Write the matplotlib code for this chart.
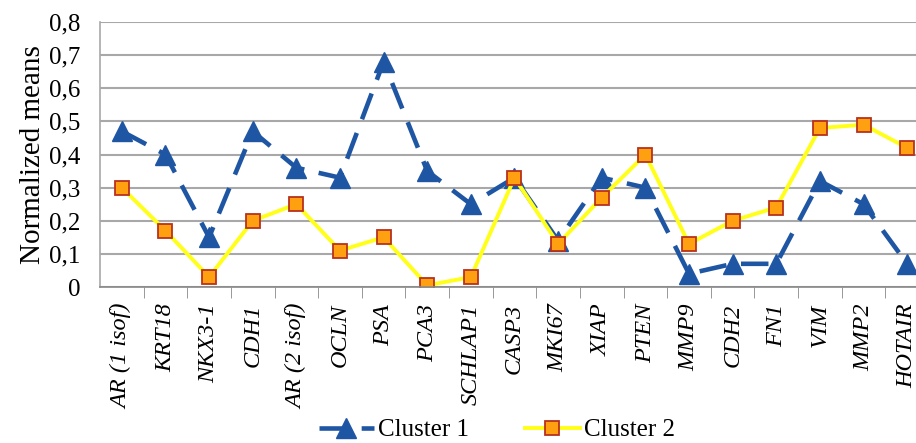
import numpy as np
from matplotlib import pyplot as plt

genes = ['AR (1 isof)', 'KRT18', 'NKX3-1', 'CDH1', 'AR (2 isof)', 'OCLN', 'PSA', 'PCA3',
         'SCHLAP1', 'CASP3', 'MKI67', 'XIAP', 'PTEN', 'MMP9', 'CDH2', 'FN1', 'VIM', 'MMP2', 'HOTAIR']
cluster1 = [0.47, 0.40, 0.15, 0.47, 0.36, 0.33, 0.68, 0.35, 0.25, 0.33, 0.14, 0.33, 0.30,
            0.04, 0.07, 0.07, 0.32, 0.25, 0.07]
cluster2 = [0.30, 0.17, 0.03, 0.20, 0.25, 0.11, 0.15, 0.005, 0.03, 0.33, 0.13, 0.27, 0.40,
            0.13, 0.20, 0.24, 0.48, 0.49, 0.42]
yticks = [0, 0.1, 0.2, 0.3, 0.4, 0.5, 0.6, 0.7, 0.8]

plt.rcParams['font.family'] = ['Liberation Serif', 'DejaVu Serif']

fig = plt.figure(figsize=(9.16, 4.43), dpi=100)
# el eje se sale un poco por la derecha, como en la imagen original
ax = fig.add_axes([100 / 916, 156 / 443, 829 / 916, 265 / 443])

x = np.arange(len(genes))
ax.plot(x, cluster1, color='#1F56A3', lw=3.3, dashes=(6, 3.2), marker='^', ms=14,
        label='Cluster 1')
ax.plot(x, cluster2, color='#FFFF1A', lw=2.8, marker='s', ms=10,
        markerfacecolor='#FFA010', markeredgecolor='#B8321E', markeredgewidth=1.3,
        label='Cluster 2')

ax.set_xlim(-0.5, len(genes) - 0.5)
ax.set_ylim(0, 0.8)
ax.set_yticks(yticks)
ax.set_yticklabels([('%.1f' % v).replace('.', ',') if v else '0' for v in yticks], fontsize=18)
ax.set_xticks(x)
ax.set_xticklabels(genes, rotation=90, style='italic', fontsize=17.5)
ax.set_xticks(np.arange(len(genes)) + 0.5, minor=True)
ax.tick_params(axis='x', which='major', length=0, pad=12)
ax.tick_params(axis='x', which='minor', length=8, color='#888888')
ax.tick_params(axis='y', length=0, pad=14)
ax.grid(axis='y', color='#A8A8A8', lw=1.5)
ax.set_axisbelow(True)
for s in ['top', 'right']:
    ax.spines[s].set_visible(False)
ax.spines['left'].set_color('#A8A8A8')
ax.spines['bottom'].set_color('#888888')
ax.spines['left'].set_linewidth(1.2)
ax.spines['bottom'].set_linewidth(1.2)

ax.set_ylabel('Normalized means', fontsize=21, labelpad=2)

fig.legend(loc='center', bbox_to_anchor=(497 / 916, 1 - 430 / 443), ncol=2, frameon=False,
           fontsize=18, handlelength=2.2, columnspacing=2.2, handletextpad=0.2)

plt.savefig('out.png')
